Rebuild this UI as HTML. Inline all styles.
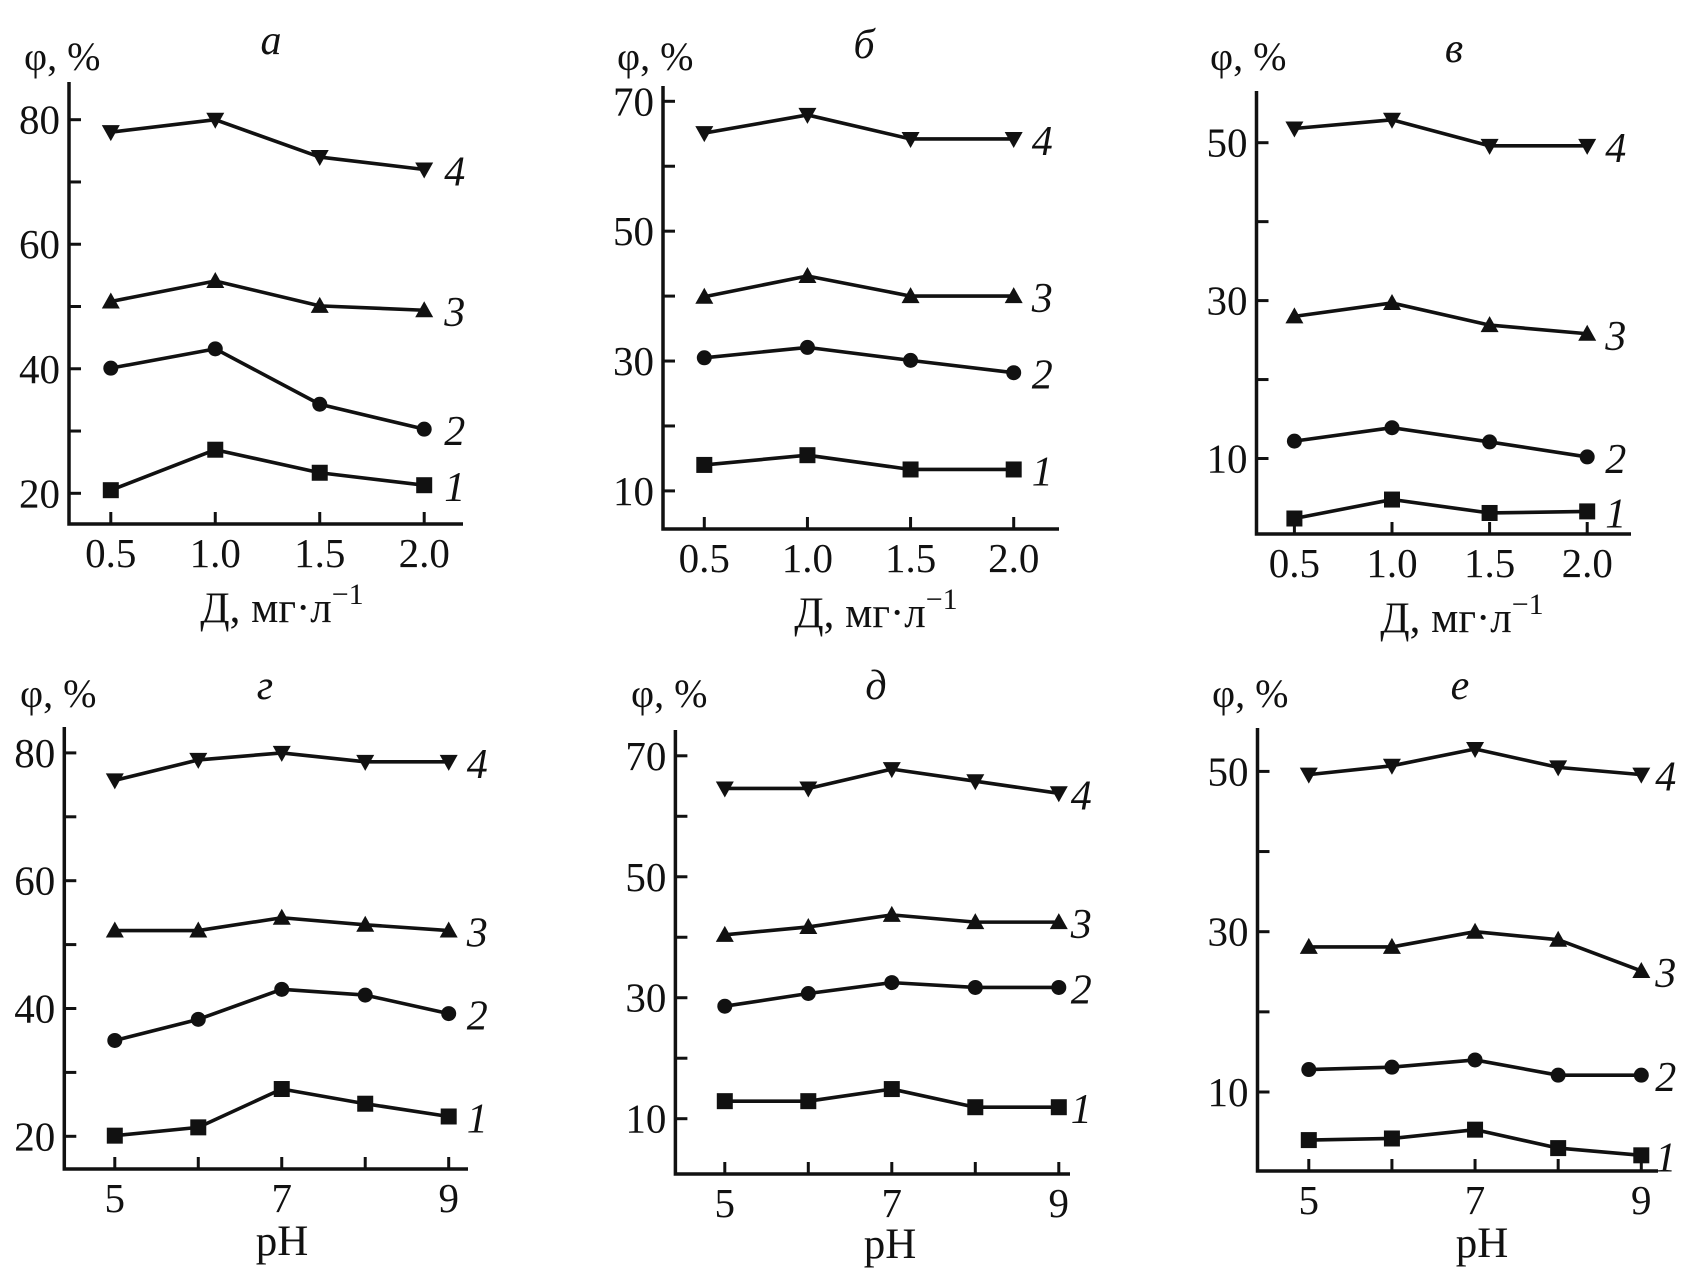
<!DOCTYPE html>
<html><head><meta charset="utf-8"><style>
html,body{margin:0;padding:0;background:#fff}
svg{display:block}
text{font-family:"Liberation Serif","DejaVu Serif",serif;fill:#111}
</style></head><body>
<svg id="fig" width="1699" height="1286" viewBox="0 0 1699 1286" xmlns="http://www.w3.org/2000/svg"></svg>
<script>
// ---- data ----
const doseX = [0.5, 1.0, 1.5, 2.0];
const phX = [5, 6, 7, 8, 9];
const doseTickLabels = ["0.5", "1.0", "1.5", "2.0"];
const phTickLabels = ["5", "7", "9"];
const phTickVals = [5, 7, 9];

const a_s1 = [20.5, 27, 23.3, 21.3];
const a_s2 = [40.1, 43.2, 34.3, 30.3];
const a_s3 = [50.8, 54.1, 50.1, 49.4];
const a_s4 = [78, 80, 74, 72];
const a_majorTicks = [20, 40, 60, 80];
const a_minorTicks = [30, 50, 70];

const b_s1 = [14.0, 15.5, 13.3, 13.3];
const b_s2 = [30.5, 32.1, 30.1, 28.2];
const b_s3 = [39.9, 43.1, 40, 40];
const b_s4 = [65.1, 67.9, 64.2, 64.2];
const b_majorTicks = [10, 30, 50, 70];
const b_minorTicks = [20, 40, 60];

const c_s1 = [2.4, 4.8, 3.1, 3.3];
const c_s2 = [12.2, 13.9, 12.1, 10.2];
const c_s3 = [28.0, 29.7, 26.9, 25.8];
const c_s4 = [51.8, 52.9, 49.6, 49.6];
const c_majorTicks = [10, 30, 50];
const c_minorTicks = [20, 40];

const g_s1 = [20.1, 21.4, 27.4, 25.1, 23.1];
const g_s2 = [35, 38.3, 43.0, 42.1, 39.2];
const g_s3 = [52.2, 52.2, 54.2, 53.1, 52.2];
const g_s4 = [75.7, 78.9, 80, 78.6, 78.6];
const g_majorTicks = [20, 40, 60, 80];
const g_minorTicks = [30, 50, 70];

const d_s1 = [12.9, 12.9, 14.9, 11.9, 11.9];
const d_s2 = [28.6, 30.7, 32.5, 31.7, 31.7];
const d_s3 = [40.4, 41.7, 43.7, 42.5, 42.5];
const d_s4 = [64.6, 64.6, 67.8, 65.8, 63.8];
const d_majorTicks = [10, 30, 50, 70];
const d_minorTicks = [20, 40, 60];

const e_s1 = [4.0, 4.2, 5.3, 3.0, 2.1];
const e_s2 = [12.8, 13.1, 14.0, 12.1, 12.1];
const e_s3 = [28.1, 28.1, 30, 29.0, 25.1];
const e_s4 = [49.6, 50.7, 52.8, 50.5, 49.6];
const e_majorTicks = [10, 30, 50];
const e_minorTicks = [20, 40];

const seriesNames = ["1", "2", "3", "4"];
const markerShapes = ["square", "circle", "up", "down"];

// ---- drawing ----
const NS = "http://www.w3.org/2000/svg";
const svg = document.getElementById("fig");
function mk(tag, attrs, parent) {
  const e = document.createElementNS(NS, tag);
  for (const k in attrs) e.setAttribute(k, attrs[k]);
  (parent || svg).appendChild(e);
  return e;
}

function panel(cfg) {
  const g = mk("g", {});
  
  
  const xS = v => cfg.x0px + (v - cfg.x0v) * (cfg.x1px - cfg.x0px) / (cfg.x1v - cfg.x0v);
  const yS = v => cfg.y0px + (v - cfg.y0v) * (cfg.y1px - cfg.y0px) / (cfg.y1v - cfg.y0v);
  const ax = mk("path", {d: `M${cfg.axX},${cfg.axTop} V${cfg.axBot} H${cfg.axRight}`, fill: "none", stroke: "#111", "stroke-width": 3.5}, g);
  
  
  cfg.major.forEach(v => {
    const t = mk("line", {x1: cfg.axX, x2: cfg.axX + 12, y1: yS(v), y2: yS(v), stroke: "#111", "stroke-width": 3}, g);
    
    
    const l = mk("text", {x: cfg.axX - 9, y: yS(v) + 14, "text-anchor": "end", "font-size": 41}, g);
    
    
    l.textContent = String(v);
  });
  cfg.minor.forEach(v => {
    const t = mk("line", {x1: cfg.axX, x2: cfg.axX + 12, y1: yS(v), y2: yS(v), stroke: "#111", "stroke-width": 3}, g);
    
    
  });
  cfg.xs.forEach(v => {
    const t = mk("line", {x1: xS(v), x2: xS(v), y1: cfg.axBot, y2: cfg.axBot - 12, stroke: "#111", "stroke-width": 3}, g);
    
    
  });
  cfg.xLabelVals.forEach((v, i) => {
    const l = mk("text", {x: xS(v), y: cfg.axBot + 43, "text-anchor": "middle", "font-size": 41}, g);
    
    
    l.textContent = cfg.xLabels[i];
  });
  const yt = mk("text", {x: cfg.phiX, y: cfg.phiY, "font-size": 40}, g);
  
  
  yt.textContent = "φ, %";
  const pl = mk("text", {x: cfg.letterX, y: cfg.letterY, "text-anchor": "middle", "font-size": 42, "font-style": "italic"}, g);
  
  
  pl.textContent = cfg.letter;
  const xt = mk("text", {x: cfg.xTitleX, y: cfg.xTitleY, "text-anchor": "middle", "font-size": 43}, g);
  
  
  if (cfg.dose) {
    xt.textContent = "Д, мг·л";
    const sup = mk("tspan", {dy: -18, "font-size": 30}, xt);
    sup.textContent = "−1";
  } else {
    xt.textContent = "pH";
  }
  cfg.series.forEach((vals, si) => {
    const pts = vals.map((v, i) => [xS(cfg.xs[i]), yS(v)]);
    const line = mk("polyline", {points: pts.map(p => p.join(",")).join(" "), fill: "none", stroke: "#111", "stroke-width": 3.6, "stroke-linejoin": "round"}, g);
    
    
    pts.forEach(p => {
      let m;
      const sh = markerShapes[si];
      if (sh === "square") m = mk("rect", {x: p[0] - 8, y: p[1] - 8, width: 16, height: 16, fill: "#111"}, g);
      else if (sh === "circle") m = mk("circle", {cx: p[0], cy: p[1], r: 7.5, fill: "#111"}, g);
      else if (sh === "up") m = mk("polygon", {points: `${p[0]},${p[1] - 9} ${p[0] - 9},${p[1] + 7} ${p[0] + 9},${p[1] + 7}`, fill: "#111"}, g);
      else m = mk("polygon", {points: `${p[0]},${p[1] + 9} ${p[0] - 9},${p[1] - 7} ${p[0] + 9},${p[1] - 7}`, fill: "#111"}, g);
      
      
    });
    const last = pts[pts.length - 1];
    const sl = mk("text", {x: last[0] + cfg.lblDx, y: last[1] + 16, "font-size": 42, "font-style": "italic"}, g);
    
    
    sl.textContent = seriesNames[si];
  });
}

panel({id: "a", letter: "а", dose: true, xs: doseX, xLabelVals: doseX, xLabels: doseTickLabels,
  x0v: 0.5, x1v: 2.0, x0px: 110.8, x1px: 424.2, y0v: 20, y1v: 80, y0px: 493.3, y1px: 119.7,
  axX: 69, axTop: 82, axBot: 524, axRight: 463, major: a_majorTicks, minor: a_minorTicks,
  series: [a_s1, a_s2, a_s3, a_s4], phiX: 24, phiY: 70, letterX: 271, letterY: 54,
  xTitleX: 282, xTitleY: 622, lblDx: 20});
panel({id: "b", letter: "б", dose: true, xs: doseX, xLabelVals: doseX, xLabels: doseTickLabels,
  x0v: 0.5, x1v: 2.0, x0px: 704.3, x1px: 1013.7, y0v: 10, y1v: 70, y0px: 490.9, y1px: 101.3,
  axX: 663, axTop: 86, axBot: 529, axRight: 1059, major: b_majorTicks, minor: b_minorTicks,
  series: [b_s1, b_s2, b_s3, b_s4], phiX: 617, phiY: 70, letterX: 864, letterY: 58,
  xTitleX: 876, xTitleY: 627, lblDx: 18});
panel({id: "c", letter: "в", dose: true, xs: doseX, xLabelVals: doseX, xLabels: doseTickLabels,
  x0v: 0.5, x1v: 2.0, x0px: 1294.4, x1px: 1587.2, y0v: 10, y1v: 50, y0px: 458.5, y1px: 142.7,
  axX: 1256.5, axTop: 91, axBot: 534, axRight: 1631, major: c_majorTicks, minor: c_minorTicks,
  series: [c_s1, c_s2, c_s3, c_s4], phiX: 1210, phiY: 70, letterX: 1454, letterY: 62,
  xTitleX: 1462, xTitleY: 632, lblDx: 18});
panel({id: "g", letter: "г", dose: false, xs: phX, xLabelVals: phTickVals, xLabels: phTickLabels,
  x0v: 5, x1v: 9, x0px: 114.8, x1px: 448.7, y0v: 20, y1v: 80, y0px: 1136.3, y1px: 752.9,
  axX: 64.3, axTop: 727, axBot: 1169, axRight: 468, major: g_majorTicks, minor: g_minorTicks,
  series: [g_s1, g_s2, g_s3, g_s4], phiX: 20, phiY: 707, letterX: 265, letterY: 699,
  xTitleX: 282, xTitleY: 1255, lblDx: 18});
panel({id: "d", letter: "д", dose: false, xs: phX, xLabelVals: phTickVals, xLabels: phTickLabels,
  x0v: 5, x1v: 9, x0px: 724.8, x1px: 1058.8, y0v: 10, y1v: 70, y0px: 1118.7, y1px: 755.8,
  axX: 675.4, axTop: 730, axBot: 1174, axRight: 1070, major: d_majorTicks, minor: d_minorTicks,
  series: [d_s1, d_s2, d_s3, d_s4], phiX: 631, phiY: 707, letterX: 876, letterY: 699,
  xTitleX: 890, xTitleY: 1258, lblDx: 12});
panel({id: "e", letter: "е", dose: false, xs: phX, xLabelVals: phTickVals, xLabels: phTickLabels,
  x0v: 5, x1v: 9, x0px: 1308.8, x1px: 1641.3, y0v: 10, y1v: 50, y0px: 1092, y1px: 771.4,
  axX: 1257.5, axTop: 728, axBot: 1171, axRight: 1658, major: e_majorTicks, minor: e_minorTicks,
  series: [e_s1, e_s2, e_s3, e_s4], phiX: 1212, phiY: 707, letterX: 1460, letterY: 699,
  xTitleX: 1482, xTitleY: 1257, lblDx: 14});
</script>
</body></html>
